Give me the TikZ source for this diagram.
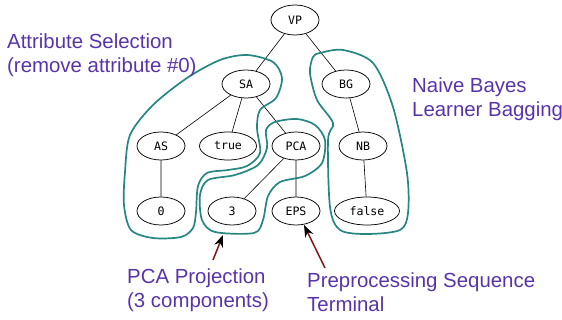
\documentclass[tikz,border=0pt]{standalone}
\usepackage{fontspec}
\setmainfont{Liberation Sans}
\newfontfamily\codefont{DejaVu Sans Mono}
\usetikzlibrary{shapes.geometric,arrows.meta}

\definecolor{notepurple}{RGB}{88,52,170}
\definecolor{hullteal}{RGB}{38,134,130}
\definecolor{arrowred}{RGB}{128,24,24}

\tikzset{
  op/.style={ellipse, draw, line width=0.75pt, minimum width=48pt, minimum height=28pt,
    inner sep=0pt, font=\codefont\fontsize{11.6}{13}\selectfont},
  hull/.style={draw=hullteal, line width=1.7pt},
  note/.style={anchor=base west, align=left, inner sep=0pt, text=notepurple,
    font=\fontsize{20.4}{24}\selectfont},
  pointer/.style={draw=arrowred, line width=1.5pt, -{Stealth[color=black, length=12pt, width=9pt]}},
}

\begin{document}
\begin{tikzpicture}[x=1pt, y=-1pt]
            \useasboundingbox (0,0) rectangle (562,320);

            \node (vp) at (295,20) [op, minimum height=30pt] {VP};
            \node (sa) at (246,84) [op] {SA};
            \node (bg) at (346,84) [op] {BG};
            \node (as) at (161,146) [op] {AS};
            \node (tru) at (228,146) [op, minimum width=57pt] {true};
            \node (pca) at (296,146) [op] {PCA};
            \node (nb) at (363,146) [op] {NB};
            \node (zero) at (161,211) [op] {0};
            \node (three) at (232,211) [op] {3};
            \node (eps) at (296,211) [op] {EPS};
            \node (fls) at (367,211) [op, minimum width=65pt] {false};
            \draw[line width=0.6pt] (vp) -- (sa) (vp) -- (bg);
            \draw[line width=0.6pt] (sa) -- (as) (sa) -- (tru) (sa) -- (pca);
            \draw[line width=0.6pt] (as) -- (zero) (pca) -- (three) (pca) -- (eps);
            \draw[line width=0.6pt] (bg) -- (nb) (nb) -- (fls);

            % groups of the pipeline
            \draw[hull] plot[smooth cycle] coordinates {(247,55) (273,62) (282,78) (276,98)
              (260,110) (257,128) (260,153) (247,166) (228,170) (207,173) (198,186) (196,212)
              (193,228) (181,237) (153,238) (131,230) (124,205) (125,172) (130,135) (153,105)
              (187,78) (220,60)};
            \draw[hull] plot[smooth cycle] coordinates {(275,122) (297,119) (315,125) (325,140)
              (322,163) (305,176) (280,182) (268,196) (263,220) (254,233) (215,232) (202,220)
              (200,195) (208,180) (235,175) (258,165) (267,148) (266,130)};
            \draw[hull] plot[smooth cycle] coordinates {(320,53) (343,50) (373,63) (393,107)
              (407,173) (408,213) (400,230) (367,234) (340,230) (330,207) (328,140) (333,123)
              (317,100) (310,73) (313,57)};

            % base anchor sits on the last line
            \node (selnote) at (7,73) [note] {Attribute Selection\\(remove attribute \#0)};
            \node (bagnote) at (412,117) [note] {Naive Bayes\\Learner Bagging};
            \node (pcanote) at (127,307) [note] {PCA Projection\\(3 components)};
            \node (termnote) at (307,311) [note] {Preprocessing Sequence\\Terminal};

            \coordinate (pcatail) at (213,260);
            \coordinate (pcatip) at (223,235);
            \coordinate (termtail) at (325,268);
            \coordinate (termtip) at (304,225);
            \draw[pointer] (pcatail) -- (pcatip);
            \draw[pointer] (termtail) -- (termtip);
        \end{tikzpicture}
\end{document}
